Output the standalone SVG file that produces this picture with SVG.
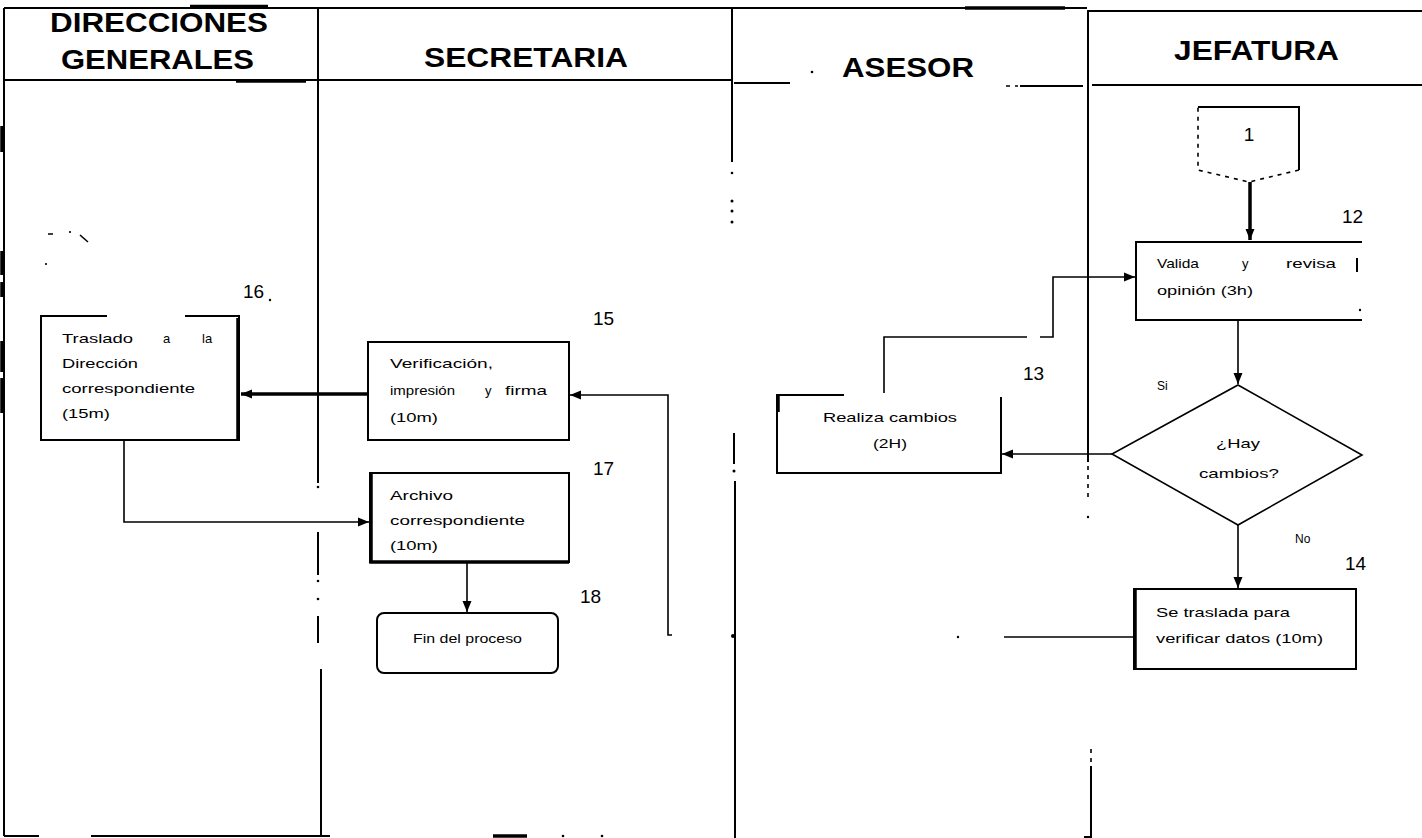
<svg xmlns="http://www.w3.org/2000/svg" width="1422" height="838" viewBox="0 0 1422 838">
  <style>
    .ln{stroke:#000;stroke-width:2;fill:none}
    .lt{stroke:#000;stroke-width:1.6;fill:none}
    .thk{stroke:#000;stroke-width:3.5;fill:none}
    .dash{stroke:#000;stroke-width:1.6;fill:none;stroke-dasharray:4 5}
    .dot{fill:#000}
    .hd{font-family:"Liberation Sans",Arial,sans-serif;font-weight:bold;font-size:27px;fill:#000}
    .tx{font-family:"Liberation Sans",Arial,sans-serif;font-size:13px;fill:#000}
    .sm{font-family:"Liberation Sans",Arial,sans-serif;font-size:12px;fill:#000}
    .num{font-family:"Liberation Sans",Arial,sans-serif;font-size:19px;fill:#000}
  </style>
  <defs>
    <marker id="arr" markerUnits="userSpaceOnUse" markerWidth="12" markerHeight="12" viewBox="0 0 12 12" refX="11" refY="6" orient="auto">
      <path d="M0,1.5 L11,6 L0,10.5 Z" fill="#000"/>
    </marker>
  </defs>
  <rect width="1422" height="838" fill="#fff"/>

  <!-- swimlane frame -->
  <g id="lanes">
    <!-- top edge -->
    <path class="ln" d="M4,8 H1087"/>
    <path class="ln" d="M1087,11 H1422"/>
    <path class="thk" d="M190,6.5 H268"/>
    <path class="thk" d="M965,8 H1065"/>
    <!-- header bottom -->
    <path class="ln" d="M4,80 H731"/>
    <path class="thk" d="M236,81 H306"/>
    <path class="ln" d="M734,83 H790"/>
    <path class="ln" d="M1020,86 H1083"/>
    <path class="dash" d="M1006,86 H1018"/>
    <path class="ln" d="M1092,85 H1422"/>
    <circle class="dot" cx="812" cy="72" r="1.3"/>
    <!-- left border -->
    <path class="ln" d="M4,8 V836"/>
    <path class="thk" d="M2,126 V152 M2,251 V275 M2,282 V297 M2,341 V372 M2,378 V413"/>
    <!-- divider: direcciones / secretaria -->
    <path class="ln" d="M318,8 V483 M318,532 V575 M318,616 V643 M321,669 V837"/>
    <circle class="dot" cx="318" cy="487" r="1.3"/>
    <circle class="dot" cx="318" cy="581" r="1.3"/>
    <circle class="dot" cx="318" cy="599" r="1.3"/>
    <!-- divider: secretaria / asesor -->
    <path class="ln" d="M732,8 V162 M734,433 V464 M735,481 V838"/>
    <circle class="dot" cx="732" cy="173" r="1.3"/>
    <circle class="dot" cx="732" cy="201" r="1.5"/>
    <circle class="dot" cx="732" cy="211" r="1.5"/>
    <circle class="dot" cx="732" cy="222" r="1.5"/>
    <circle class="dot" cx="734" cy="471" r="1.5"/>
    <circle class="dot" cx="733" cy="636" r="2"/>
    <!-- divider: asesor / jefatura -->
    <path class="ln" d="M1088,11 V462 M1091,766 V837 H1084"/>
    <path class="dash" d="M1088,466 V500"/>
    <circle class="dot" cx="1088" cy="517" r="1.2"/>
    <path class="dash" d="M1091,749 V762"/>
    <!-- bottom edge -->
    <path class="ln" d="M4,836 H39 M91,836 H330"/>
    <path class="thk" d="M493,836 H527"/>
    <circle class="dot" cx="563" cy="836" r="1.3"/>
    <circle class="dot" cx="602" cy="836" r="1.3"/>
    <!-- stray pen marks -->
    <path class="lt" d="M48,234 H53 M80,235 L88,242"/>
    <circle class="dot" cx="70" cy="232" r="1.1"/>
    <circle class="dot" cx="46" cy="264" r="1.1"/>
    <circle class="dot" cx="270" cy="300" r="1.2"/>
    <!-- lane titles -->
    <text class="hd" x="50" y="32" textLength="218" lengthAdjust="spacingAndGlyphs">DIRECCIONES</text>
    <text class="hd" x="61" y="69" textLength="193" lengthAdjust="spacingAndGlyphs">GENERALES</text>
    <text class="hd" x="424" y="67" textLength="204" lengthAdjust="spacingAndGlyphs">SECRETARIA</text>
    <text class="hd" x="842" y="77" textLength="132" lengthAdjust="spacingAndGlyphs">ASESOR</text>
    <text class="hd" x="1174" y="60" textLength="165" lengthAdjust="spacingAndGlyphs">JEFATURA</text>
  </g>

  <!-- connectors -->
  <g id="connectors">
    <path class="thk" d="M1250,182 V240" marker-end="url(#arr)"/>
    <path class="lt" d="M1238,320 V384" marker-end="url(#arr)"/>
    <path class="lt" d="M1112,454 H1002" marker-end="url(#arr)"/>
    <path class="lt" d="M884,393 V337 H1027 M1040,337 H1053 V277 H1135" marker-end="url(#arr)"/>
    <path class="lt" d="M1238,525 V588" marker-end="url(#arr)"/>
    <path class="lt" d="M1134,637 H1004"/>
    <circle class="dot" cx="958" cy="637" r="1.2"/>
    <path class="lt" d="M672,635 H668 V395 H570" marker-end="url(#arr)"/>
    <path class="thk" d="M368,394 H241" marker-end="url(#arr)"/>
    <path class="lt" d="M124,440 V522 H369" marker-end="url(#arr)"/>
    <path class="lt" d="M467,562 V612" marker-end="url(#arr)"/>
  </g>

  <!-- step 1: off-page connector -->
  <g id="n1">
    <path class="ln" d="M1198,107 H1299 V170"/>
    <path class="dash" d="M1299,170 L1249,182 L1198,170 V107"/>
    <text class="num" x="1249" y="141" text-anchor="middle">1</text>
  </g>

  <!-- step 12 -->
  <g id="n12">
    <path class="ln" d="M1362,242 H1136 V320 H1362"/>
    <path class="ln" d="M1357,258 V272"/>
    <circle class="dot" cx="1360" cy="310" r="1.2"/>
    <text class="tx" x="1157" y="268" textLength="42" lengthAdjust="spacingAndGlyphs">Valida</text>
    <text class="tx" x="1242" y="268">y</text>
    <text class="tx" x="1286" y="268" textLength="50" lengthAdjust="spacingAndGlyphs">revisa</text>
    <text class="tx" x="1157" y="295" textLength="96" lengthAdjust="spacingAndGlyphs">opinión (3h)</text>
    <text class="num" x="1342" y="223">12</text>
  </g>

  <!-- decision -->
  <g id="n_decision">
    <path class="lt" d="M1238,385 L1362,455 L1238,525 L1112,454 Z"/>
    <text class="tx" x="1216" y="448" textLength="44" lengthAdjust="spacingAndGlyphs">¿Hay</text>
    <text class="tx" x="1199" y="478" textLength="80" lengthAdjust="spacingAndGlyphs">cambios?</text>
    <text class="sm" x="1157" y="390">Si</text>
    <text class="sm" x="1295" y="543">No</text>
  </g>

  <!-- step 13 -->
  <g id="n13">
    <path class="ln" d="M844,395 H777 V473 H1001 V397"/>
    <path class="thk" d="M778,396 V412"/>
    <text class="tx" x="823" y="422" textLength="134" lengthAdjust="spacingAndGlyphs">Realiza cambios</text>
    <text class="tx" x="873" y="448" textLength="34" lengthAdjust="spacingAndGlyphs">(2H)</text>
    <text class="num" x="1023" y="380">13</text>
  </g>

  <!-- step 14 -->
  <g id="n14">
    <rect class="ln" x="1134" y="589" width="222" height="80"/>
    <path class="thk" d="M1135,589 V669"/>
    <text class="tx" x="1156" y="617" textLength="134" lengthAdjust="spacingAndGlyphs">Se traslada para</text>
    <text class="tx" x="1156" y="643" textLength="167" lengthAdjust="spacingAndGlyphs">verificar datos (10m)</text>
    <text class="num" x="1345" y="570">14</text>
  </g>

  <!-- step 15 -->
  <g id="n15">
    <rect class="ln" x="368" y="342" width="201" height="98"/>
    <text class="tx" x="390" y="368" textLength="103" lengthAdjust="spacingAndGlyphs">Verificación,</text>
    <text class="tx" x="390" y="395" textLength="65" lengthAdjust="spacingAndGlyphs">impresión</text>
    <text class="tx" x="485" y="395">y</text>
    <text class="tx" x="505" y="395" textLength="42" lengthAdjust="spacingAndGlyphs">firma</text>
    <text class="tx" x="390" y="422" textLength="48" lengthAdjust="spacingAndGlyphs">(10m)</text>
    <text class="num" x="593" y="325">15</text>
  </g>

  <!-- step 16 -->
  <g id="n16">
    <path class="ln" d="M107,316 H41 V440 H239 V316 H185"/>
    <path class="thk" d="M238,318 V440"/>
    <text class="tx" x="62" y="343" textLength="71" lengthAdjust="spacingAndGlyphs">Traslado</text>
    <text class="tx" x="163" y="343">a</text>
    <text class="tx" x="202" y="343">la</text>
    <text class="tx" x="62" y="368" textLength="76" lengthAdjust="spacingAndGlyphs">Dirección</text>
    <text class="tx" x="62" y="393" textLength="133" lengthAdjust="spacingAndGlyphs">correspondiente</text>
    <text class="tx" x="62" y="418" textLength="48" lengthAdjust="spacingAndGlyphs">(15m)</text>
    <text class="num" x="243" y="298">16</text>
  </g>

  <!-- step 17 -->
  <g id="n17">
    <rect class="ln" x="370" y="473" width="199" height="89"/>
    <path class="thk" d="M371,473 V562 H569"/>
    <text class="tx" x="390" y="500" textLength="63" lengthAdjust="spacingAndGlyphs">Archivo</text>
    <text class="tx" x="390" y="525" textLength="135" lengthAdjust="spacingAndGlyphs">correspondiente</text>
    <text class="tx" x="390" y="550" textLength="48" lengthAdjust="spacingAndGlyphs">(10m)</text>
    <text class="num" x="593" y="475">17</text>
  </g>

  <!-- step 18 -->
  <g id="n18">
    <rect class="ln" x="377" y="613" width="181" height="60" rx="7"/>
    <text class="tx" x="413" y="643" textLength="109" lengthAdjust="spacingAndGlyphs">Fin del proceso</text>
    <text class="num" x="580" y="603">18</text>
  </g>
</svg>
